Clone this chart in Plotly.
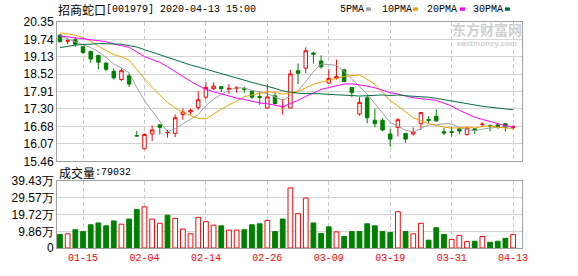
import plotly.graph_objects as go

# ---------------- data ----------------
dates = ["01-10", "01-13", "01-14", "01-15", "01-16", "01-17", "01-20", "01-21", "01-22", "01-23",
         "02-03", "02-04", "02-05", "02-06", "02-07", "02-10", "02-11", "02-12", "02-13", "02-14",
         "02-17", "02-18", "02-19", "02-20", "02-21", "02-24", "02-25", "02-26", "02-27", "02-28",
         "03-02", "03-03", "03-04", "03-05", "03-06", "03-09", "03-10", "03-11", "03-12", "03-13",
         "03-16", "03-17", "03-18", "03-19", "03-20", "03-23", "03-24", "03-25", "03-26", "03-27",
         "03-30", "03-31", "04-01", "04-02", "04-03", "04-07", "04-08", "04-09", "04-10", "04-13"]

opens = [19.89, 19.67, 19.73, 19.48, 19.32, 19.18, 18.91, 18.62, 18.33, 18.46,
         16.36, 15.90, 16.42, 16.74, 16.46, 16.44, 17.10, 17.19, 17.35, 17.71,
         18.01, 18.08, 17.99, 18.03, 18.02, 17.92, 17.74, 17.33, 17.76, 17.37,
         17.33, 18.64, 18.73, 19.26, 18.98, 18.21, 18.37, 18.67, 18.05, 17.12,
         17.69, 16.90, 16.90, 16.42, 16.65, 16.44, 16.42, 16.78, 16.93, 17.04,
         16.50, 16.50, 16.60, 16.40, 16.60, 16.75, 16.72, 16.74, 16.78, 16.64]
highs = [19.93, 19.77, 19.82, 19.50, 19.33, 19.19, 18.93, 18.72, 18.71, 18.55,
         16.53, 16.44, 16.72, 16.75, 16.56, 17.10, 17.31, 17.31, 17.92, 18.23,
         18.23, 18.09, 18.17, 18.10, 18.08, 17.96, 17.92, 18.17, 17.89, 17.65,
         18.67, 18.89, 19.46, 19.30, 19.18, 18.69, 19.03, 18.71, 18.06, 17.71,
         17.76, 17.31, 16.97, 16.60, 16.97, 16.45, 16.65, 17.18, 17.04, 17.28,
         16.63, 16.67, 16.63, 16.63, 16.63, 16.83, 16.76, 16.81, 16.79, 16.74]
lows = [19.63, 19.57, 19.48, 19.23, 18.91, 18.69, 18.62, 18.33, 18.27, 18.07,
        16.35, 15.88, 16.17, 16.40, 16.29, 16.31, 16.92, 17.10, 17.26, 17.65,
        17.96, 17.89, 17.83, 17.87, 17.86, 17.65, 17.44, 17.33, 17.44, 17.10,
        17.33, 18.17, 18.55, 18.89, 18.71, 18.17, 18.33, 18.23, 17.71, 17.06,
        16.79, 16.65, 16.51, 15.97, 16.33, 16.11, 16.36, 16.56, 16.81, 16.85,
        16.38, 16.33, 16.40, 16.36, 16.42, 16.67, 16.51, 16.60, 16.51, 16.58]
closes = [19.66, 19.69, 19.57, 19.28, 19.05, 18.94, 18.69, 18.39, 18.64, 18.17,
          16.35, 16.40, 16.56, 16.65, 16.47, 16.99, 17.19, 17.25, 17.62, 18.05,
          18.10, 18.01, 18.02, 18.04, 17.98, 17.71, 17.70, 17.72, 17.49, 17.38,
          18.53, 18.55, 19.34, 19.22, 18.78, 18.37, 18.44, 18.26, 17.87, 17.53,
          16.99, 16.78, 16.56, 16.24, 16.92, 16.24, 16.49, 17.17, 16.90, 16.88,
          16.45, 16.47, 16.52, 16.63, 16.56, 16.76, 16.70, 16.67, 16.65, 16.67]

ma5 = [19.86, 19.76, 19.66, 19.56, 19.45, 19.31, 19.11, 18.87, 18.74, 18.57,
       18.05, 17.59, 17.22, 16.83, 16.49, 16.61, 16.77, 16.91, 17.10, 17.42,
       17.64, 17.81, 17.96, 18.04, 18.03, 17.95, 17.89, 17.83, 17.72, 17.60,
       17.76, 17.93, 18.26, 18.60, 18.88, 18.85, 18.83, 18.61, 18.34, 18.09,
       17.82, 17.49, 17.15, 16.82, 16.70, 16.55, 16.49, 16.61, 16.74, 16.74,
       16.78, 16.77, 16.64, 16.59, 16.53, 16.59, 16.63, 16.66, 16.67, 16.69]
ma10 = [19.97, 19.94, 19.89, 19.80, 19.68, 19.50, 19.34, 19.21, 19.13, 19.01,
        18.68, 18.35, 18.05, 17.78, 17.53, 17.33, 17.18, 17.07, 16.97, 16.95,
        17.13, 17.29, 17.44, 17.57, 17.73, 17.80, 17.85, 17.90, 17.88, 17.82,
        17.86, 17.91, 18.04, 18.16, 18.24, 18.31, 18.38, 18.44, 18.47, 18.49,
        18.34, 18.16, 17.88, 17.58, 17.40, 17.18, 16.99, 16.88, 16.78, 16.72,
        16.66, 16.63, 16.63, 16.67, 16.63, 16.68, 16.70, 16.65, 16.63, 16.61]
ma20 = [19.86, 19.83, 19.80, 19.77, 19.73, 19.70, 19.66, 19.58, 19.53, 19.46,
        19.30, 19.14, 19.03, 18.93, 18.78, 18.60, 18.43, 18.27, 18.12, 17.98,
        17.90, 17.82, 17.74, 17.68, 17.63, 17.56, 17.51, 17.48, 17.42, 17.38,
        17.49, 17.60, 17.74, 17.87, 17.98, 18.05, 18.12, 18.17, 18.18, 18.15,
        18.10, 18.04, 17.96, 17.87, 17.82, 17.75, 17.69, 17.66, 17.63, 17.60,
        17.50, 17.40, 17.25, 17.12, 17.01, 16.93, 16.85, 16.77, 16.71, 16.66]
ma30 = [19.45, 19.50, 19.54, 19.56, 19.58, 19.59, 19.59, 19.58, 19.57, 19.52,
        19.47, 19.38, 19.29, 19.20, 19.10, 19.01, 18.92, 18.84, 18.77, 18.69,
        18.62, 18.55, 18.47, 18.38, 18.30, 18.23, 18.16, 18.10, 18.02, 17.93,
        17.89, 17.85, 17.84, 17.84, 17.83, 17.81, 17.80, 17.80, 17.77, 17.75,
        17.77, 17.79, 17.79, 17.77, 17.79, 17.76, 17.74, 17.74, 17.71, 17.67,
        17.62, 17.57, 17.52, 17.47, 17.42, 17.39, 17.36, 17.32, 17.30, 17.27]

volumes = [80000, 84000, 108000, 97000, 137000, 148000, 131000, 160000, 141000, 171000,
           228000, 243000, 171000, 146000, 194000, 175000, 112000, 84000, 181000, 156000,
           135000, 131000, 106000, 106000, 108000, 137000, 143000, 163000, 97000, 171000,
           355000, 203000, 295000, 148000, 86000, 125000, 95000, 68000, 97000, 97000,
           143000, 131000, 97000, 91000, 215000, 97000, 84000, 146000, 46000, 120000,
           80000, 50000, 74000, 38000, 40000, 68000, 34000, 40000, 57000, 79032]

tick_dates = ["01-15", "02-04", "02-14", "02-26", "03-09", "03-19", "03-31", "04-13"]
price_tick_labels = ["15.46", "16.07", "16.68", "17.30", "17.91", "18.52", "19.13", "19.74", "20.35"]
vol_tick_vals = [0, 98575, 197150, 295725, 394300]
vol_tick_labels = ["0", "9.86万", "19.72万", "29.57万", "39.43万"]

stock_name = "招商蛇口"
stock_info = "[001979] 2020-04-13 15:00"
vol_label = "成交量"
ma_names = ["5PMA", "10PMA", "20PMA", "30PMA"]

# ---------------- styling ----------------
RED = "#ff0000"
GREEN = "#008000"
MA_COLORS = ["#a0a0a0", "#f2a300", "#ff00ff", "#006f3c"]
BORDER = "#a0a0a0"
GRID = "#d4d4d4"
MONO = "Liberation Mono, Noto Sans CJK SC"
CJK = "Noto Sans CJK SC"

W, H = 578, 276
L, R, T, B = 57, 56, 22, 22
PW, PH = W - L - R, H - T - B


def px_x(px):
    return (px - L) / PW


def px_y(py):
    return (H - B - py) / PH


x = list(range(len(dates)))
tick_idx = [dates.index(d) for d in tick_dates]
up = [c >= o for o, c in zip(opens, closes)]
ri = [i for i in x if up[i]]
gi = [i for i in x if not up[i]]

fig = go.Figure()


def candle(idx, color, fill):
    st = dict(line=dict(color=color, width=1), fillcolor=fill)
    return go.Candlestick(
        x=[x[i] for i in idx], open=[opens[i] for i in idx], high=[highs[i] for i in idx],
        low=[lows[i] for i in idx], close=[closes[i] for i in idx],
        increasing=st, decreasing=st, whiskerwidth=0,
        xaxis="x", yaxis="y", showlegend=False, hoverinfo="skip")


fig.add_trace(candle(ri, RED, "#ffffff"))
fig.add_trace(candle(gi, GREEN, GREEN))

for name, ys, col in zip(ma_names, [ma5, ma10, ma20, ma30], MA_COLORS):
    fig.add_trace(go.Scatter(x=x, y=ys, mode="lines", name=name,
                             line=dict(color=col, width=1), showlegend=False,
                             hoverinfo="skip", xaxis="x", yaxis="y"))

prev = [opens[0]] + closes[:-1]
vup = [closes[i] > prev[i] for i in x]
vr = [i for i in x if vup[i]]
vg = [i for i in x if not vup[i]]
fig.add_trace(go.Bar(x=[x[i] for i in vr], y=[volumes[i] for i in vr], width=0.62,
                     marker=dict(color="#ffffff", line=dict(color=RED, width=1)),
                     xaxis="x2", yaxis="y2", showlegend=False, hoverinfo="skip"))
fig.add_trace(go.Bar(x=[x[i] for i in vg], y=[volumes[i] for i in vg], width=0.62,
                     marker=dict(color=GREEN, line=dict(color=GREEN, width=1)),
                     xaxis="x2", yaxis="y2", showlegend=False, hoverinfo="skip"))

xr = [-0.39, 60.16]
common_x = dict(range=xr, tickmode="array", tickvals=tick_idx, ticks="",
                showgrid=True, gridcolor="#c8c8c8", griddash="4px,3px", gridwidth=1,
                showline=True, mirror=True, linecolor=BORDER, linewidth=1,
                zeroline=False, fixedrange=True)
common_y = dict(ticks="", showgrid=True, gridcolor=GRID, gridwidth=1,
                showline=True, mirror=True, linecolor=BORDER, linewidth=1,
                zeroline=False, fixedrange=True,
                tickfont=dict(family="Arial", size=12, color="#000000"))

annotations = [
    dict(text=stock_name, x=px_x(56), y=px_y(9), xanchor="left", yanchor="middle",
         font=dict(family=CJK, size=12, color="#000")),
    dict(text=stock_info, x=px_x(104), y=px_y(9), xanchor="left", yanchor="middle",
         font=dict(family=MONO, size=10, color="#000")),
    dict(text=vol_label, x=px_x(57), y=px_y(177), xanchor="left", yanchor="middle",
         font=dict(family=CJK, size=12, color="#000")),
    dict(text=":" + str(volumes[-1]), x=px_x(93), y=px_y(177), xanchor="left", yanchor="middle",
         font=dict(family=MONO, size=10, color="#000")),
    dict(text="<b>东方财富网</b>", x=px_x(487), y=px_y(29.5), xanchor="center", yanchor="middle",
         font=dict(family=CJK, size=14, color="#cfcfcf"), borderpad=0),
    dict(text="<b>eastmoney.com</b>", x=px_x(487), y=px_y(44.5), xanchor="center", yanchor="middle",
         font=dict(family="Arial", size=8, color="#cfcfcf"), borderpad=0),
]
shapes = []
leg_text_x = [338, 380, 425, 471]
leg_sq_x = [366, 413, 460, 505]
for name, tx, sx, col in zip(ma_names, leg_text_x, leg_sq_x, MA_COLORS):
    annotations.append(dict(text=name, x=px_x(tx), y=px_y(9), xanchor="left", yanchor="middle",
                            font=dict(family=MONO, size=10, color="#000")))
    shapes.append(dict(type="rect", xref="paper", yref="paper",
                       x0=px_x(sx), x1=px_x(sx + 5), y0=px_y(10.5), y1=px_y(7),
                       fillcolor=col, line=dict(width=0)))

for a in annotations:
    a.update(xref="paper", yref="paper", showarrow=False)

fig.update_layout(
    width=W, height=H, margin=dict(l=L, r=R, t=T, b=B, pad=0),
    paper_bgcolor="#ffffff", plot_bgcolor="#ffffff",
    showlegend=False, hovermode=False, boxgap=0.35, barmode="overlay",
    xaxis=dict(domain=[0, 1], anchor="y", showticklabels=False,
               rangeslider=dict(visible=False), **common_x),
    xaxis2=dict(domain=[0, 1], anchor="y2", showticklabels=True,
                ticktext=tick_dates, tickfont=dict(family=MONO, size=10, color=RED),
                **common_x),
    yaxis=dict(domain=[px_y(165), 1], anchor="x", range=[15.46, 20.35],
               tickmode="array", tickvals=[float(v) for v in price_tick_labels],
               ticktext=price_tick_labels, **common_y),
    yaxis2=dict(domain=[0, px_y(185.5)], anchor="x2", range=[0, 394300],
                tickmode="array", tickvals=vol_tick_vals, ticktext=vol_tick_labels,
                **common_y),
    annotations=annotations, shapes=shapes,
)

fig.write_html("out.html")
